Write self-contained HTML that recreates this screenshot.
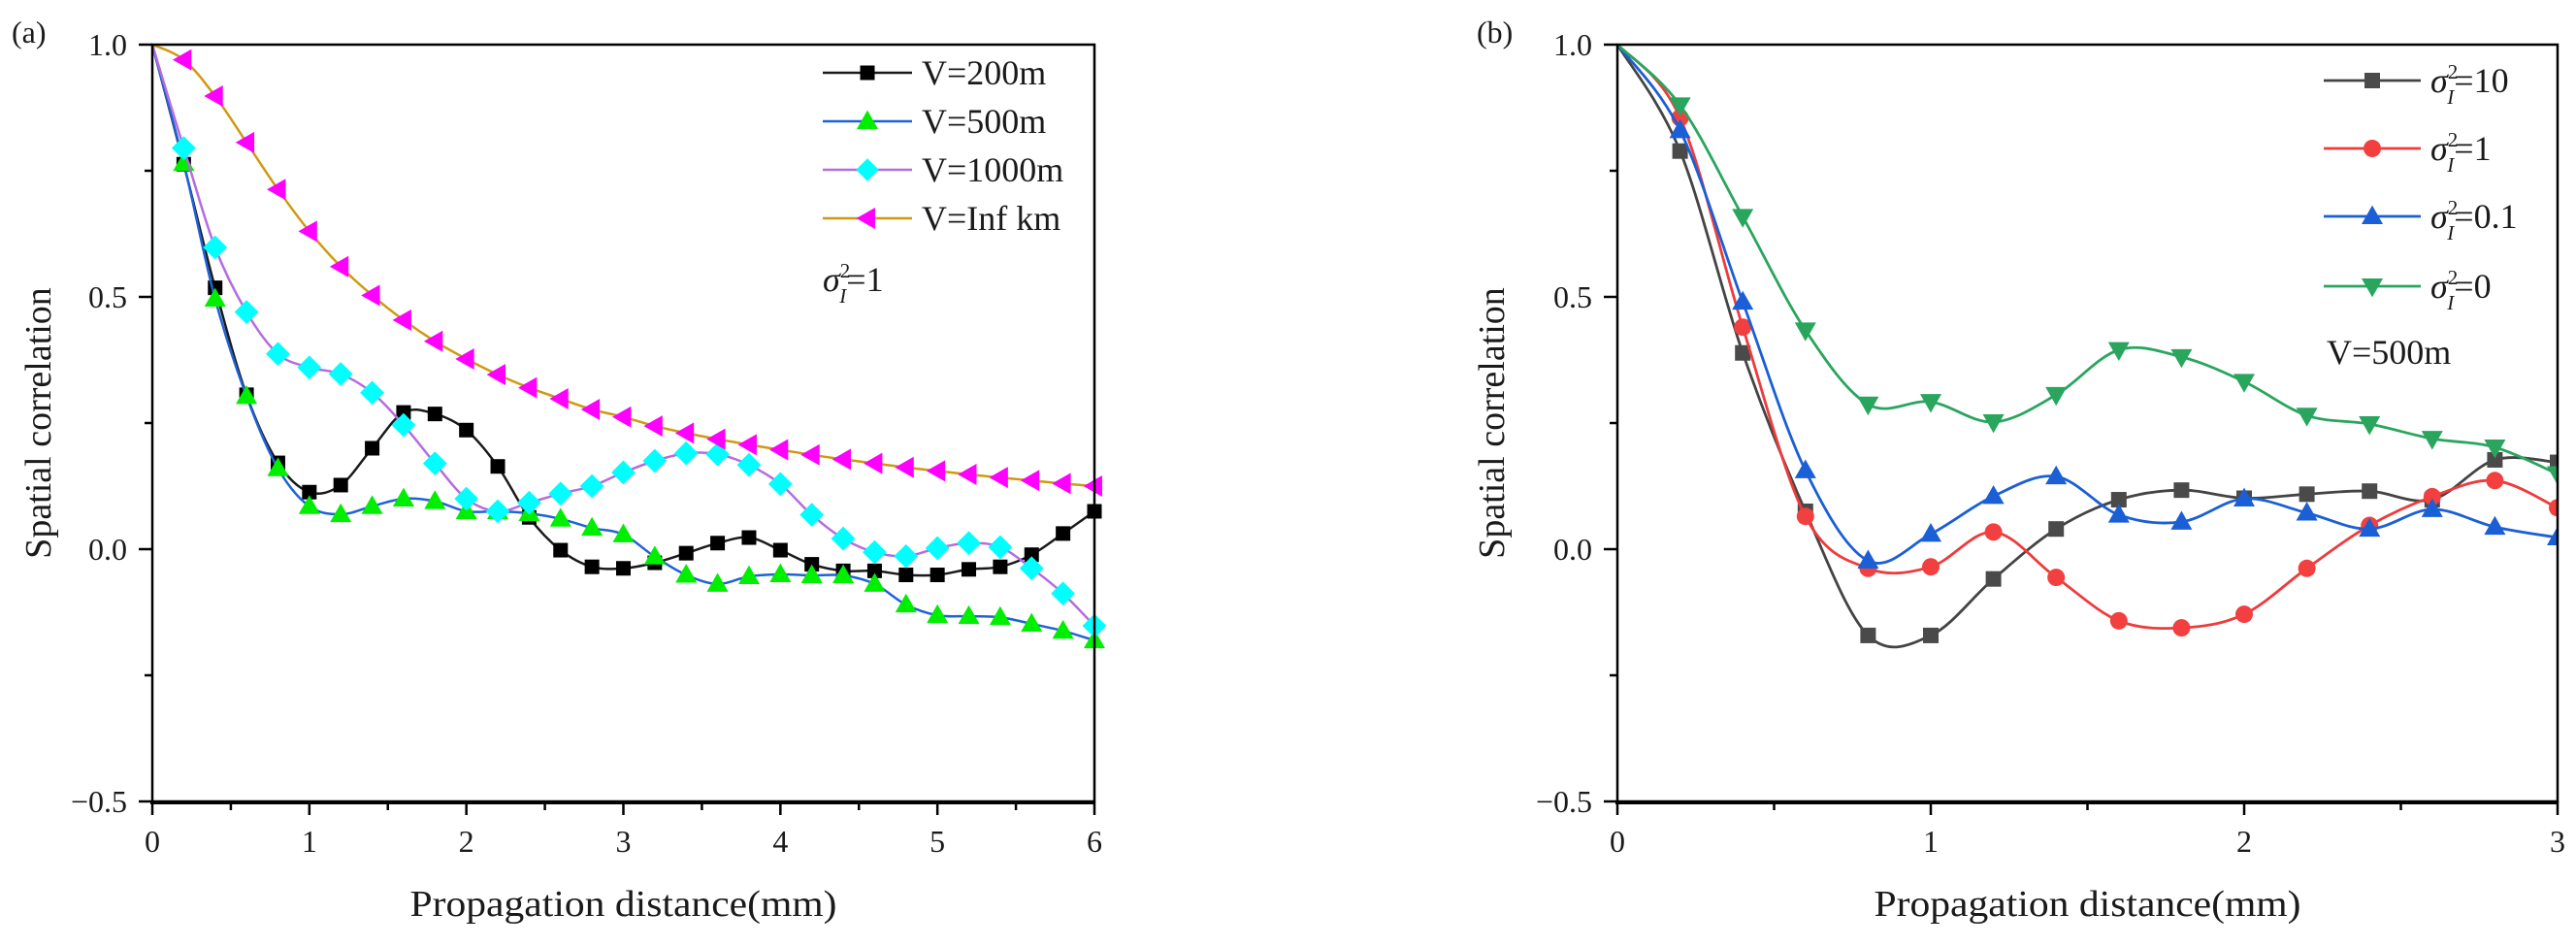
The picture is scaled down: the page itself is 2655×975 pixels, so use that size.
<!DOCTYPE html>
<html><head><meta charset="utf-8">
<style>
html,body{margin:0;padding:0;background:#fff;}
svg{display:block;}
text{font-family:"Liberation Serif","DejaVu Serif",serif;fill:#1a1a1a;}
</style></head>
<body>
<svg id="fig" width="2655" height="975" viewBox="0 0 2655 975" xmlns="http://www.w3.org/2000/svg">
<text x="12" y="44" font-size="32">(a)</text>
<text x="1522" y="44" font-size="32">(b)</text>
<g id="chartA"></g>
<g id="chartB"></g>
</svg>
<script>
// ---- Chart A data ----
const xA = [0,0.2,0.4,0.6,0.8,1.0,1.2,1.4,1.6,1.8,2.0,2.2,2.4,2.6,2.8,3.0,3.2,3.4,3.6,3.8,4.0,4.2,4.4,4.6,4.8,5.0,5.2,5.4,5.6,5.8,6.0];
const v200 = [1,0.763,0.518,0.306,0.171,0.113,0.127,0.2,0.271,0.268,0.236,0.164,0.063,-0.002,-0.035,-0.038,-0.027,-0.008,0.012,0.023,-0.002,-0.03,-0.043,-0.043,-0.051,-0.051,-0.04,-0.035,-0.011,0.031,0.075];
const v500 = [1,0.765,0.496,0.303,0.16,0.085,0.069,0.085,0.1,0.095,0.075,0.075,0.071,0.06,0.042,0.029,-0.015,-0.051,-0.069,-0.054,-0.05,-0.052,-0.052,-0.069,-0.11,-0.131,-0.133,-0.135,-0.148,-0.162,-0.181];
const v1000 = [1,0.795,0.598,0.47,0.387,0.36,0.347,0.31,0.246,0.17,0.1,0.075,0.092,0.11,0.125,0.152,0.175,0.19,0.188,0.167,0.129,0.068,0.021,-0.006,-0.014,0.002,0.012,0.004,-0.038,-0.088,-0.152];
const vInf = [1,0.97,0.898,0.806,0.713,0.63,0.56,0.503,0.454,0.412,0.377,0.346,0.32,0.298,0.277,0.262,0.244,0.23,0.218,0.207,0.197,0.187,0.178,0.17,0.162,0.155,0.148,0.142,0.136,0.13,0.125];
const legendA = ["V=200m","V=500m","V=1000m","V=Inf km"];
const xTicksA = [0,1,2,3,4,5,6];
const yTicks = [-0.5,0,0.5,1.0];
const yTickLabels = ["\u22120.5","0.0","0.5","1.0"];
// ---- Chart B data ----
const xB = [0,0.2,0.4,0.6,0.8,1.0,1.2,1.4,1.6,1.8,2.0,2.2,2.4,2.6,2.8,3.0];
const s10 = [1,0.789,0.389,0.075,-0.171,-0.171,-0.059,0.04,0.098,0.117,0.101,0.109,0.115,0.098,0.177,0.172];
const s1 = [1,0.855,0.44,0.065,-0.038,-0.035,0.034,-0.056,-0.142,-0.156,-0.129,-0.038,0.047,0.104,0.136,0.082];
const s01 = [1,0.83,0.49,0.156,-0.023,0.03,0.105,0.144,0.068,0.054,0.1,0.072,0.04,0.079,0.044,0.023];
const s0 = [1,0.88,0.659,0.434,0.287,0.292,0.252,0.306,0.395,0.381,0.332,0.265,0.248,0.219,0.202,0.149];
const legendBVals = ["10","1","0.1","0"];
const xTicksB = [0,1,2,3];

const NS="http://www.w3.org/2000/svg";
function mk(tag, attrs, parent){const e=document.createElementNS(NS,tag);for(const k in attrs)e.setAttribute(k,attrs[k]);parent.appendChild(e);return e;}

function spline(pts){
  let d="M"+pts[0][0].toFixed(1)+","+pts[0][1].toFixed(1);
  for(let i=0;i<pts.length-1;i++){
    const p0=pts[Math.max(0,i-1)],p1=pts[i],p2=pts[i+1],p3=pts[Math.min(pts.length-1,i+2)];
    const c1=[p1[0]+(p2[0]-p0[0])/6,p1[1]+(p2[1]-p0[1])/6];
    const c2=[p2[0]-(p3[0]-p1[0])/6,p2[1]-(p3[1]-p1[1])/6];
    d+=" C"+c1[0].toFixed(1)+","+c1[1].toFixed(1)+" "+c2[0].toFixed(1)+","+c2[1].toFixed(1)+" "+p2[0].toFixed(1)+","+p2[1].toFixed(1);
  }
  return d;
}
function marker(g, type, cx, cy, s, fill){
  let e;
  if(type==="square") e=mk("rect",{x:cx-s/2,y:cy-s/2,width:s,height:s,fill:fill},g);
  else if(type==="circle") e=mk("circle",{cx:cx,cy:cy,r:s/2,fill:fill},g);
  else if(type==="up") e=mk("polygon",{points:`${cx},${cy-s*0.6} ${cx-s*0.58},${cy+s*0.42} ${cx+s*0.58},${cy+s*0.42}`,fill:fill},g);
  else if(type==="down") e=mk("polygon",{points:`${cx},${cy+s*0.6} ${cx-s*0.58},${cy-s*0.42} ${cx+s*0.58},${cy-s*0.42}`,fill:fill},g);
  else if(type==="left") e=mk("polygon",{points:`${cx-s*0.6},${cy} ${cx+s*0.42},${cy-s*0.58} ${cx+s*0.42},${cy+s*0.58}`,fill:fill},g);
  else if(type==="diamond") e=mk("polygon",{points:`${cx},${cy-s*0.62} ${cx+s*0.62},${cy} ${cx},${cy+s*0.62} ${cx-s*0.62},${cy}`,fill:fill},g);
  return e;
}

function drawAxes(g, L, R, T, B, xmax, xTicks, xs, ys, labelRight){
  yTicks.forEach((v,i)=>{
    const y=ys(v);
    const t=mk("line",{x1:L-14,y1:y,x2:L,y2:y,stroke:"#000","stroke-width":2.5},g);
    
    
    const tx=mk("text",{x:labelRight,y:y+11,"font-size":32,"text-anchor":"end"},g);
    tx.textContent=yTickLabels[i];
    
    
  });
  for(let i=0;i<yTicks.length-1;i++){
    const y=ys((yTicks[i]+yTicks[i+1])/2);
    const t=mk("line",{x1:L-8,y1:y,x2:L,y2:y,stroke:"#000","stroke-width":2.5},g);
    
    
  }
  xTicks.forEach(v=>{
    const x=xs(v);
    const t=mk("line",{x1:x,y1:B,x2:x,y2:B+14,stroke:"#000","stroke-width":2.5},g);
    
    
    const tx=mk("text",{x:x,y:B+52,"font-size":32,"text-anchor":"middle"},g);
    tx.textContent=String(v);
    
    
    if(v<xmax){
      const m=mk("line",{x1:xs(v+0.5),y1:B,x2:xs(v+0.5),y2:B+9,stroke:"#000","stroke-width":2.5},g);
      
      
    }
  });
  const fr=mk("rect",{x:L,y:T,width:R-L,height:B-T,fill:"none",stroke:"#000","stroke-width":2.5},g);
  
  
  const bl=mk("line",{x1:L-2,y1:B+1,x2:R+1,y2:B+1,stroke:"#000","stroke-width":4},g);
  
  
  const xt=mk("text",{x:(L+R)/2,y:B+118,"font-size":38,"text-anchor":"middle",textLength:440,lengthAdjust:"spacingAndGlyphs"},g);
  xt.textContent="Propagation distance(mm)";
  
  
}

function drawSeries(g, name, xsArr, vals, xs, ys, line, mtype, mfill, msize, lw){
  const sg=mk("g",{},g);
  
  
  const pts=xsArr.map((x,i)=>[xs(x),ys(vals[i])]);
  const p=mk("path",{d:spline(pts),fill:"none",stroke:line,"stroke-width":lw},sg);
  
  
  pts.forEach((pt,i)=>{
    if(i===0) return;
    const m=marker(sg,mtype,pt[0],pt[1],msize,mfill);
    
    
  });
}

// ---------- Chart A ----------
(function(){
  const g=document.getElementById("chartA");
  const L=157,R=1128,T=46,B=826;
  const xs=v=>L+v*(R-L)/6, ys=v=>566-v*520;
  const clip=mk("clipPath",{id:"clipA"},g); mk("rect",{x:L,y:T-12,width:R-L+12,height:B-T+12},clip);
  const pg=mk("g",{"clip-path":"url(#clipA)"},g);
  drawSeries(pg,"series-v200",xA,v200,xs,ys,"#1a1a1a","square","#000",15,2.5);
  drawSeries(pg,"series-v500",xA,v500,xs,ys,"#1e63d6","up","#00ee00",19,2.5);
  drawSeries(pg,"series-v1000",xA,v1000,xs,ys,"#b56ce0","diamond","#00ffff",20,2.5);
  drawSeries(pg,"series-vinf",xA,vInf,xs,ys,"#cf9a10","left","#ff00ff",19,2.5);
  drawAxes(g,L,R,T,B,6,xTicksA,xs,ys,131);
  const yt=mk("text",{x:0,y:0,"font-size":38,"text-anchor":"middle",transform:"translate(52,436) rotate(-90)"},g);
  yt.textContent="Spatial correlation";
  
  
  const styles=[["#1a1a1a","square","#000"],["#1e63d6","up","#00ee00"],["#b56ce0","diamond","#00ffff"],["#cf9a10","left","#ff00ff"]];
  legendA.forEach((lab,i)=>{
    const y=75+i*50;
    const lg=mk("g",{},g);
    
    
    mk("line",{x1:848,y1:y,x2:940,y2:y,stroke:styles[i][0],"stroke-width":2.5},lg);
    marker(lg,styles[i][1],894,y,i===0?15:19,styles[i][2]);
    const t=mk("text",{x:950,y:y+12,"font-size":36},lg);
    t.textContent=lab;
  });
  const sg=mk("text",{x:848,y:300,"font-size":36},g);
  sg.innerHTML='<tspan font-style="italic">σ</tspan><tspan font-size="21" dy="-14">2</tspan><tspan font-size="21" font-style="italic" dx="-11" dy="26">I</tspan><tspan dy="-12">=1</tspan>';
  
  
})();

// ---------- Chart B ----------
(function(){
  const g=document.getElementById("chartB");
  const L=1667,R=2636,T=46,B=826;
  const xs=v=>L+v*(R-L)/3, ys=v=>566-v*520;
  const clip=mk("clipPath",{id:"clipB"},g); mk("rect",{x:L,y:T-12,width:R-L,height:B-T+12},clip);
  const pg=mk("g",{"clip-path":"url(#clipB)"},g);
  drawSeries(pg,"series-sigma10",xB,s10,xs,ys,"#444","square","#4a4a4a",16,2.8);
  drawSeries(pg,"series-sigma1",xB,s1,xs,ys,"#ee3b3b","circle","#f24040",18,2.8);
  drawSeries(pg,"series-sigma01",xB,s01,xs,ys,"#1a5fd6","up","#1a5fd6",19,2.8);
  drawSeries(pg,"series-sigma0",xB,s0,xs,ys,"#2aa55e","down","#2aa55e",19,2.8);
  drawAxes(g,L,R,T,B,3,xTicksB,xs,ys,1641);
  const yt=mk("text",{x:0,y:0,"font-size":38,"text-anchor":"middle",transform:"translate(1550,436) rotate(-90)"},g);
  yt.textContent="Spatial correlation";
  
  
  const styles=[["#444","square","#4a4a4a",16],["#ee3b3b","circle","#f24040",18],["#1a5fd6","up","#1a5fd6",19],["#2aa55e","down","#2aa55e",19]];
  const ly=[83,153,223,295];
  legendBVals.forEach((lab,i)=>{
    const y=ly[i];
    const lg=mk("g",{},g);
    
    
    mk("line",{x1:2395,y1:y,x2:2495,y2:y,stroke:styles[i][0],"stroke-width":2.8},lg);
    marker(lg,styles[i][1],2445,y,styles[i][3],styles[i][2]);
    const t=mk("text",{x:2505,y:y+12,"font-size":36},lg);
    t.innerHTML='<tspan font-style="italic">σ</tspan><tspan font-size="21" dy="-14">2</tspan><tspan font-size="21" font-style="italic" dx="-11" dy="26">I</tspan><tspan dy="-12">='+lab+'</tspan>';
  });
  const vt=mk("text",{x:2398,y:375,"font-size":36},g);
  vt.textContent="V=500m";
  
  
})();
</script>
</body></html>
